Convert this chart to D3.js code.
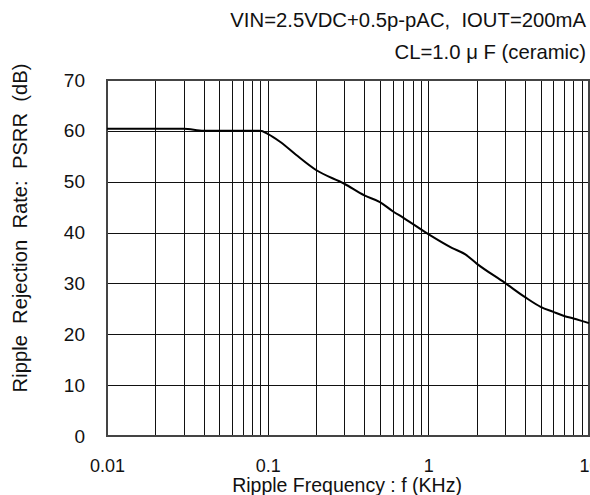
<!DOCTYPE html>
<html>
<head>
<meta charset="utf-8">
<script src="https://cdn.jsdelivr.net/npm/d3@7"></script>
<style>
  body { margin: 0; background: #fff; }
  svg { display: block; font-family: "Liberation Sans", Arial, sans-serif; }
</style>
</head>
<body>
<div class="bg"></div>
<script>
// Ripple rejection vs ripple frequency
const freq = [0.01, 0.02, 0.03, 0.04, 0.05, 0.07, 0.09, 0.1, 0.12, 0.15, 0.2, 0.3, 0.4, 0.5, 0.6, 0.7, 1.0, 1.4, 1.7, 2, 3, 4, 5, 6, 7, 8, 10];
const psrr = [60.4, 60.4, 60.4, 60.0, 60.0, 60.0, 60.0, 59.4, 57.8, 55.3, 52.3, 49.6, 47.3, 46.0, 44.2, 42.9, 39.7, 37.0, 35.7, 33.9, 30.1, 27.3, 25.4, 24.4, 23.6, 23.1, 22.2];

const xTicks = [0.01, 0.1, 1, 10];
const yTicks = [0, 10, 20, 30, 40, 50, 60, 70];
const titleLines = ["VIN=2.5VDC+0.5p-pAC,  IOUT=200mA", "CL=1.0 \u03bc F (ceramic)"];
const xTitle = "Ripple Frequency : f (KHz)";
const yTitle = "Ripple  Rejection  Rate:  PSRR  (dB)";

const W = 590, H = 495;
const margin = { top: 80, right: 2, bottom: 59, left: 107 };
const width = 589 - margin.left;
const height = 436 - margin.top;

const svg = d3.select(".bg").append("svg")
  .attr("width", W)
  .attr("height", H);

const g = svg.append("g")
  .attr("transform", "translate(" + margin.left + "," + margin.top + ")");

const xScale = d3.scaleLog().domain([0.01, 10]).range([0, width]);
const yScale = d3.scaleLinear().domain([0, 70]).range([height, 0]);

// minor grid: 1..9 in every decade
const gridX = [];
[0.01, 0.1, 1].forEach(dec => {
  for (let k = 1; k <= 10; k++) gridX.push(dec * k);
});

g.selectAll(".vgrid")
  .data(gridX)
  .enter().append("line")
  .attr("class", "vgrid")
  .attr("x1", d => Math.round(xScale(d)) + 0.5)
  .attr("x2", d => Math.round(xScale(d)) + 0.5)
  .attr("y1", 0)
  .attr("y2", height)
  .attr("stroke", "#111")
  .attr("stroke-width", 1);

g.selectAll(".hgrid")
  .data(yTicks)
  .enter().append("line")
  .attr("class", "hgrid")
  .attr("x1", 0)
  .attr("x2", width)
  .attr("y1", d => Math.round(yScale(d)) + 0.5)
  .attr("y2", d => Math.round(yScale(d)) + 0.5)
  .attr("stroke", "#111")
  .attr("stroke-width", 1);

// frame
g.append("rect")
  .attr("x", 0)
  .attr("y", 0)
  .attr("width", width)
  .attr("height", height)
  .attr("fill", "none")
  .attr("stroke", "#444")
  .attr("stroke-width", 2);

// axes (labels only, grid drawn above)
const xAxis = d3.axisBottom(xScale).tickValues(xTicks).tickSize(0)
  .tickFormat(d => String(d));
const yAxis = d3.axisLeft(yScale).tickValues(yTicks).tickSize(0).tickPadding(22);

g.append("g")
  .attr("class", "x-axis")
  .attr("transform", "translate(0," + height + ")")
  .call(xAxis);

g.append("g")
  .attr("class", "y-axis")
  .call(yAxis);

svg.selectAll(".x-axis path, .y-axis path").remove();
svg.selectAll(".x-axis text, .y-axis text")
  .attr("font-family", "Liberation Sans, Arial, sans-serif")
  .attr("fill", "#111");
svg.selectAll(".y-axis text").attr("font-size", 19);
svg.selectAll(".x-axis text")
  .attr("font-size", 18)
  .attr("dy", null)
  .attr("y", 36);

// curve
const line = d3.line()
  .x((d, i) => xScale(freq[i]))
  .y(d => yScale(d))
  .curve(d3.curveMonotoneX);

g.append("path")
  .datum(psrr)
  .attr("fill", "none")
  .attr("stroke", "#000")
  .attr("stroke-width", 2)
  .attr("d", line);

// conditions text
svg.selectAll(".cond")
  .data(titleLines)
  .enter().append("text")
  .attr("class", "cond")
  .attr("x", 586)
  .attr("y", (d, i) => 27 + i * 32)
  .attr("text-anchor", "end")
  .attr("font-size", 20.3)
  .attr("fill", "#111")
  .style("white-space", "pre")
  .text(d => d);

svg.append("text")
  .attr("x", 347)
  .attr("y", 492)
  .attr("text-anchor", "middle")
  .attr("font-size", 19.5)
  .attr("fill", "#111")
  .text(xTitle);

svg.append("text")
  .attr("transform", "translate(27,228) rotate(-90)")
  .attr("text-anchor", "middle")
  .attr("font-size", 20.2)
  .attr("fill", "#111")
  .style("white-space", "pre")
  .text(yTitle);
</script>
</body>
</html>
